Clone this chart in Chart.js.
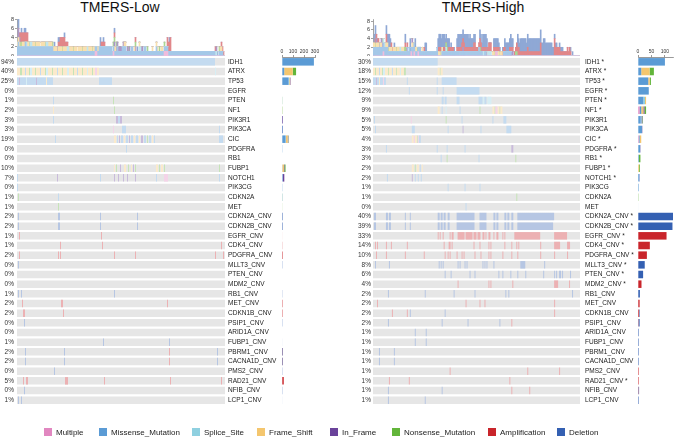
<!DOCTYPE html>
<html>
<head>
<meta charset="utf-8">
<script src="https://cdn.jsdelivr.net/npm/chart.js@4.4.1/dist/chart.umd.min.js"></script>
<style>
    body { margin: 0; background: #fff; width: 676px; height: 440px; position: relative; overflow: hidden;
           font-family: "Liberation Sans", Arial, sans-serif; }
    canvas { position: absolute; }
    .ttl { position: absolute; top: -1px; font-size: 14px; color: #111; white-space: nowrap; transform: translateX(-50%); }
    .lg { position: absolute; top: 428px; font-size: 8px; color: #222; white-space: nowrap; line-height: 10px; }
    .lg i { display: inline-block; width: 8px; height: 8px; vertical-align: -1px; margin-right: 4px; }
</style>
</head>
<body>
<div class="ttl" style="left:120px">TMERS-Low</div>
<div class="ttl" style="left:483px">TMERS-High</div>

<canvas id="lowTop" width="230" height="46" style="left:0;top:10px"></canvas>
<canvas id="highTop" width="235" height="46" style="left:350px;top:10px"></canvas>
<canvas id="lowMatrix" width="280" height="356" style="left:0;top:54px"></canvas>
<canvas id="highMatrix" width="280" height="356" style="left:356px;top:54px"></canvas>
<canvas id="lowSide" width="60" height="370" style="left:270px;top:40px"></canvas>
<canvas id="highSide" width="50" height="370" style="left:626px;top:40px"></canvas>
<div id="legend"></div>

<script>
    // ---- data ---------------------------------------------------------------
    // samples are binned into columns (about 1.5 samples per column)
    var N_COLS = 208;

    var TYPE_CODES = ['X', 'M', 'S', 'F', 'I', 'N', 'A', 'D'];
    var TYPE_NAMES = ['Multiple', 'Missense_Mutation', 'Splice_Site', 'Frame_Shift', 'In_Frame',
                      'Nonsense_Mutation', 'Amplification', 'Deletion'];
    var TYPE_COLORS = ['#E187C0', '#5B9BD5', '#8FD0E0', '#F4C66E', '#6A429A', '#62B53A', '#C9252B', '#3460B2'];

    var LOW_GENES = ['IDH1', 'ATRX', 'TP53', 'EGFR', 'PTEN', 'NF1', 'PIK3R1', 'PIK3CA', 'CIC', 'PDGFRA', 'RB1',
        'FUBP1', 'NOTCH1', 'PIK3CG', 'CDKN2A', 'MET', 'CDKN2A_CNV', 'CDKN2B_CNV', 'EGFR_CNV', 'CDK4_CNV',
        'PDGFRA_CNV', 'MLLT3_CNV', 'PTEN_CNV', 'MDM2_CNV', 'RB1_CNV', 'MET_CNV', 'CDKN1B_CNV', 'PSIP1_CNV',
        'ARID1A_CNV', 'FUBP1_CNV', 'PBRM1_CNV', 'CACNA1D_CNV', 'PMS2_CNV', 'RAD21_CNV', 'NFIB_CNV', 'LCP1_CNV'];
    var LOW_PCT = ['94%', '40%', '25%', '0%', '1%', '2%', '3%', '3%', '19%', '0%', '0%', '10%', '7%', '0%', '1%',
        '1%', '2%', '2%', '1%', '1%', '2%', '0%', '0%', '0%', '1%', '2%', '2%', '0%', '0%', '1%', '2%', '2%',
        '0%', '5%', '0%', '1%'];

    var HIGH_GENES = ['IDH1 *', 'ATRX *', 'TP53 *', 'EGFR *', 'PTEN *', 'NF1 *', 'PIK3R1', 'PIK3CA', 'CIC *',
        'PDGFRA *', 'RB1 *', 'FUBP1 *', 'NOTCH1 *', 'PIK3CG', 'CDKN2A', 'MET', 'CDKN2A_CNV *', 'CDKN2B_CNV *',
        'EGFR_CNV *', 'CDK4_CNV *', 'PDGFRA_CNV *', 'MLLT3_CNV *', 'PTEN_CNV *', 'MDM2_CNV *', 'RB1_CNV',
        'MET_CNV', 'CDKN1B_CNV', 'PSIP1_CNV', 'ARID1A_CNV', 'FUBP1_CNV', 'PBRM1_CNV', 'CACNA1D_CNV',
        'PMS2_CNV', 'RAD21_CNV *', 'NFIB_CNV', 'LCP1_CNV'];
    var HIGH_PCT = ['30%', '18%', '15%', '12%', '9%', '9%', '5%', '5%', '4%', '3%', '3%', '2%', '2%', '1%', '1%',
        '0%', '40%', '39%', '33%', '14%', '10%', '8%', '6%', '4%', '2%', '2%', '2%', '2%', '1%', '1%', '1%',
        '1%', '1%', '1%', '1%', '1%'];

    // oncoprint cells per gene: [firstColumn, endColumn, typeCode]
    var LOW_CELLS = [
        [[0, 198, 'M']],
        [[0, 3, 'F'], [3, 5, 'N'], [5, 8, 'F'], [8, 9, 'M'], [9, 12, 'F'], [12, 13, 'N'], [13, 15, 'S'], [15, 18, 'F'],
         [18, 19, 'N'], [19, 23, 'F'], [23, 24, 'M'], [24, 28, 'F'], [28, 29, 'N'], [29, 31, 'S'], [31, 35, 'F'],
         [35, 36, 'N'], [36, 40, 'F'], [40, 41, 'M'], [41, 45, 'F'], [45, 46, 'N'], [46, 50, 'F'], [50, 52, 'S'],
         [52, 56, 'F'], [56, 57, 'N'], [57, 60, 'F'], [60, 61, 'M'], [61, 65, 'F'], [65, 66, 'N'], [66, 70, 'F'],
         [70, 71, 'S'], [71, 75, 'F'], [75, 76, 'N'], [76, 78, 'F'], [78, 80, 'X'], [80, 82, 'F'], [198, 199, 'S']],
        [[0, 2, 'M'], [2, 3, 'I'], [3, 9, 'M'], [9, 10, 'S'], [10, 19, 'M'], [19, 20, 'I'], [20, 29, 'M'],
         [29, 30, 'F'], [30, 36, 'M'], [82, 95, 'M']],
        [],
        [[36, 37, 'M'], [96, 97, 'N']],
        [[36, 37, 'F'], [97, 98, 'N']],
        [[36, 37, 'M'], [99, 101, 'I'], [101, 103, 'M'], [103, 105, 'I']],
        [[96, 97, 'X'], [105, 109, 'M'], [202, 203, 'M']],
        [[38, 39, 'M'], [97, 99, 'F'], [100, 101, 'M'], [102, 103, 'I'], [104, 106, 'M'], [107, 108, 'F'],
         [109, 111, 'M'], [112, 113, 'I'], [114, 116, 'M'], [117, 118, 'F'], [119, 121, 'M'], [122, 123, 'F'],
         [124, 126, 'I'], [127, 129, 'M'], [130, 131, 'N'], [132, 134, 'M'], [135, 136, 'F'], [137, 138, 'M'],
         [202, 206, 'M']],
        [[109, 110, 'M']],
        [],
        [[97, 98, 'F'], [99, 100, 'N'], [103, 104, 'I'], [107, 109, 'F'], [111, 112, 'N'], [114, 115, 'F'],
         [116, 117, 'I'], [118, 119, 'N'], [139, 141, 'F'], [142, 143, 'N'], [144, 146, 'F'], [147, 148, 'N'],
         [202, 203, 'N']],
        [[0, 1, 'M'], [40, 41, 'I'], [83, 84, 'M'], [97, 98, 'I'], [101, 102, 'I'], [106, 107, 'I'], [110, 111, 'I'],
         [118, 119, 'I'], [139, 140, 'M'], [147, 151, 'X'], [202, 203, 'M']],
        [[0, 1, 'M']],
        [[1, 2, 'N'], [41, 42, 'M']],
        [[41, 42, 'N']],
        [[1, 2, 'D'], [41, 43, 'D'], [83, 84, 'D'], [120, 121, 'D']],
        [[1, 2, 'D'], [41, 43, 'D'], [83, 84, 'D'], [120, 121, 'D']],
        [[2, 3, 'A'], [84, 85, 'A']],
        [[43, 44, 'A'], [85, 86, 'A'], [204, 205, 'A']],
        [[2, 3, 'A'], [41, 42, 'A'], [43, 44, 'A'], [97, 98, 'A'], [118, 119, 'A'], [198, 199, 'A'], [206, 207, 'A']],
        [[1, 2, 'D']],
        [],
        [],
        [[1, 2, 'D'], [4, 5, 'D'], [97, 98, 'D']],
        [[5, 6, 'A'], [44, 46, 'A'], [150, 151, 'A']],
        [[6, 8, 'A'], [46, 47, 'A']],
        [[7, 8, 'D']],
        [],
        [[86, 87, 'D'], [152, 153, 'D']],
        [[8, 9, 'D'], [47, 48, 'D'], [152, 153, 'A'], [200, 201, 'D']],
        [[8, 9, 'D'], [47, 48, 'D'], [152, 153, 'A'], [200, 201, 'D']],
        [[37, 38, 'D']],
        [[6, 7, 'A'], [9, 11, 'A'], [48, 51, 'A'], [87, 88, 'A'], [153, 154, 'A'], [204, 205, 'A']],
        [[7, 8, 'D']],
        [[1, 2, 'D'], [4, 5, 'D']]
    ];

    var HIGH_CELLS = [
        [[0, 65, 'M']],
        [[0, 2, 'F'], [2, 3, 'N'], [3, 6, 'F'], [6, 7, 'M'], [7, 9, 'F'], [9, 10, 'N'], [10, 12, 'S'], [12, 15, 'F'],
         [15, 16, 'N'], [16, 19, 'F'], [19, 20, 'M'], [20, 23, 'F'], [23, 24, 'N'], [24, 27, 'F'], [27, 28, 'S'],
         [28, 31, 'F'], [31, 33, 'N'], [65, 67, 'F'], [67, 68, 'N'], [68, 70, 'F']],
        [[0, 3, 'M'], [3, 4, 'I'], [4, 6, 'M'], [6, 7, 'F'], [7, 10, 'M'], [10, 11, 'X'], [11, 13, 'M'],
         [34, 35, 'M'], [64, 65, 'M'], [69, 84, 'M']],
        [[36, 37, 'M'], [64, 65, 'M'], [70, 71, 'M'], [84, 107, 'M']],
        [[69, 71, 'M'], [72, 74, 'M'], [84, 87, 'M'], [106, 110, 'M'], [110, 112, 'S'], [112, 114, 'M'], [115, 119, 'S']],
        [[65, 67, 'F'], [69, 70, 'M'], [73, 74, 'S'], [87, 88, 'M'], [107, 108, 'N'], [120, 122, 'F'], [122, 123, 'N'],
         [123, 125, 'X'], [125, 127, 'F'], [127, 128, 'N'], [128, 130, 'F']],
        [[1, 2, 'M'], [38, 39, 'X'], [73, 74, 'N'], [89, 90, 'M'], [120, 121, 'M'], [131, 134, 'M']],
        [[2, 3, 'M'], [39, 42, 'M'], [75, 76, 'M'], [90, 91, 'I'], [108, 109, 'M'], [134, 139, 'M']],
        [[39, 41, 'F'], [41, 42, 'X'], [42, 44, 'F'], [44, 45, 'N'], [45, 46, 'X'], [46, 48, 'M']],
        [[13, 14, 'M'], [64, 65, 'M'], [74, 75, 'M'], [92, 93, 'M'], [139, 141, 'I']],
        [[68, 69, 'M'], [74, 75, 'N'], [106, 107, 'M'], [143, 144, 'N']],
        [[39, 41, 'F'], [42, 43, 'N'], [44, 46, 'F'], [47, 48, 'M'], [49, 50, 'F']],
        [[14, 15, 'M'], [39, 40, 'I'], [42, 43, 'M'], [45, 46, 'M'], [48, 49, 'M']],
        [[75, 76, 'M'], [92, 93, 'M'], [107, 108, 'M']],
        [[144, 145, 'N']],
        [[93, 94, 'M']],
        [[1, 3, 'D'], [13, 15, 'D'], [16, 18, 'D'], [32, 33, 'D'], [37, 38, 'D'], [65, 67, 'D'], [68, 70, 'D'],
         [71, 73, 'D'], [75, 77, 'D'], [84, 102, 'D'], [107, 114, 'D'], [121, 123, 'D'], [124, 126, 'D'],
         [132, 134, 'D'], [135, 137, 'D'], [139, 141, 'D'], [145, 182, 'D']],
        [[1, 3, 'D'], [13, 15, 'D'], [16, 18, 'D'], [32, 33, 'D'], [37, 38, 'D'], [65, 67, 'D'], [68, 70, 'D'],
         [71, 73, 'D'], [75, 77, 'D'], [84, 102, 'D'], [107, 114, 'D'], [121, 123, 'D'], [124, 126, 'D'],
         [132, 134, 'D'], [135, 137, 'D'], [139, 141, 'D'], [145, 181, 'D']],
        [[65, 66, 'A'], [67, 68, 'A'], [70, 71, 'A'], [77, 78, 'A'], [79, 81, 'A'], [85, 92, 'A'], [93, 100, 'A'],
         [101, 104, 'A'], [105, 108, 'A'], [110, 112, 'A'], [113, 114, 'A'], [116, 118, 'A'], [121, 122, 'A'],
         [124, 126, 'A'], [130, 131, 'A'], [132, 133, 'A'], [142, 168, 'A'], [182, 195, 'A']],
        [[2, 3, 'A'], [4, 5, 'A'], [13, 14, 'A'], [18, 19, 'A'], [34, 35, 'A'], [71, 72, 'A'], [76, 78, 'A'],
         [79, 80, 'A'], [101, 102, 'A'], [107, 108, 'A'], [116, 117, 'A'], [118, 119, 'A'], [132, 133, 'A'],
         [139, 140, 'A'], [144, 145, 'A'], [146, 147, 'A'], [168, 169, 'A'], [182, 188, 'A'], [195, 198, 'A']],
        [[3, 4, 'A'], [13, 14, 'A'], [32, 33, 'A'], [51, 52, 'A'], [72, 73, 'A'], [75, 76, 'A'], [77, 78, 'A'],
         [84, 85, 'A'], [89, 90, 'A'], [91, 92, 'A'], [102, 103, 'A'], [108, 109, 'A'], [116, 117, 'A'],
         [118, 119, 'A'], [130, 131, 'A'], [139, 140, 'A'], [145, 146, 'A'], [168, 169, 'A'], [182, 183, 'A'],
         [195, 196, 'A']],
        [[2, 3, 'D'], [16, 17, 'D'], [66, 67, 'D'], [68, 69, 'D'], [70, 71, 'D'], [85, 86, 'D'], [87, 88, 'D'],
         [92, 93, 'D'], [94, 95, 'D'], [110, 111, 'D'], [112, 113, 'D'], [114, 115, 'D'], [121, 122, 'D'],
         [148, 153, 'D'], [172, 173, 'D']],
        [[72, 73, 'D'], [78, 79, 'D'], [97, 98, 'D'], [102, 103, 'D'], [126, 127, 'D'], [130, 131, 'D'],
         [138, 139, 'D'], [145, 146, 'D'], [153, 154, 'D'], [171, 172, 'D'], [182, 183, 'D'], [184, 185, 'D'],
         [187, 189, 'D'], [190, 191, 'D'], [198, 199, 'D']],
        [[85, 86, 'A'], [116, 117, 'A'], [118, 119, 'A'], [140, 141, 'A'], [182, 186, 'A'], [197, 198, 'A']],
        [[15, 16, 'D'], [52, 53, 'D'], [81, 82, 'D'], [102, 103, 'D'], [133, 134, 'D'], [136, 137, 'D'], [200, 201, 'D']],
        [[4, 5, 'A'], [93, 94, 'A'], [107, 108, 'A'], [112, 113, 'A'], [182, 183, 'A']],
        [[19, 20, 'A'], [34, 35, 'A'], [37, 38, 'D'], [72, 73, 'D'], [182, 183, 'A']],
        [[15, 16, 'D'], [69, 70, 'D'], [95, 96, 'D'], [127, 128, 'D'], [139, 140, 'A']],
        [[42, 43, 'D'], [53, 54, 'D']],
        [[42, 43, 'D'], [53, 54, 'D']],
        [[6, 7, 'D'], [21, 22, 'D']],
        [[6, 7, 'D'], [21, 22, 'D']],
        [[77, 78, 'A'], [155, 156, 'A'], [187, 188, 'A']],
        [[16, 17, 'A'], [36, 37, 'A'], [137, 138, 'A']],
        [[15, 16, 'D'], [69, 70, 'D'], [139, 140, 'A'], [157, 158, 'A']],
        [[15, 16, 'D'], [52, 53, 'D']]
    ];

    // mutations per sample (top bars): runs of [firstColumn, endColumn, count]
    var LOW_TOP_MULTIPLE = [[78, 80, 1], [96, 97, 1], [147, 151, 1]];
    var LOW_TOP_MISSENSE = [[0, 198, 1], [0, 36, 1], [82, 95, 1], [100, 101, 1], [105, 109, 1], [114, 116, 1],
        [127, 129, 1], [139, 140, 1], [202, 206, 1], [1, 2, 1], [8, 9, 1]];
    var LOW_TOP_SPLICE = [[9, 10, 1], [13, 15, 1], [29, 31, 1], [50, 52, 1], [70, 71, 1], [198, 200, 1], [122, 124, 1]];
    var LOW_TOP_FRAME = [[0, 3, 1], [5, 8, 1], [10, 12, 1], [15, 18, 1], [19, 23, 1], [24, 28, 1], [31, 35, 1],
        [36, 40, 1], [41, 45, 1], [46, 50, 1], [52, 56, 1], [57, 60, 1], [61, 65, 1], [66, 70, 1], [71, 75, 1],
        [76, 78, 1], [80, 82, 1], [97, 99, 1], [107, 109, 1], [117, 118, 1], [122, 123, 1], [135, 136, 1],
        [139, 141, 1], [144, 146, 1], [203, 205, 1]];
    var LOW_TOP_INFRAME = [[2, 3, 1], [40, 41, 1], [97, 98, 1], [99, 105, 1], [106, 107, 1], [110, 111, 1],
        [112, 113, 1], [118, 119, 1], [124, 126, 1], [199, 200, 1], [1, 2, 2]];
    var LOW_TOP_NONSENSE = [[3, 5, 1], [12, 13, 1], [18, 19, 1], [28, 29, 1], [35, 36, 1], [45, 46, 1], [56, 57, 1],
        [65, 66, 1], [75, 76, 1], [96, 98, 1], [99, 100, 1], [111, 112, 1], [118, 119, 1], [130, 131, 1],
        [142, 143, 1], [147, 148, 1], [202, 203, 1]];
    var LOW_TOP_AMP = [[2, 3, 1], [3, 11, 2], [41, 51, 1], [43, 48, 1], [84, 88, 1], [97, 98, 1], [118, 119, 1],
        [150, 154, 2], [153, 154, 1], [198, 199, 1], [204, 207, 1]];
    var LOW_TOP_DEL = [[1, 2, 3], [4, 5, 1], [7, 9, 1], [41, 43, 1], [37, 38, 1], [47, 48, 1], [83, 84, 2],
        [86, 87, 1], [97, 98, 1], [120, 121, 1], [152, 153, 1], [200, 201, 1]];

    var HIGH_TOP_MULTIPLE = [[10, 11, 1], [38, 39, 1], [41, 42, 1], [45, 46, 1], [123, 125, 1]];
    var HIGH_TOP_MISSENSE = [[0, 65, 1], [0, 13, 1], [13, 15, 1], [34, 35, 1], [36, 37, 1], [39, 42, 1], [46, 48, 1],
        [64, 65, 1], [69, 84, 1], [84, 107, 1], [106, 110, 1], [112, 114, 1], [131, 139, 1]];
    var HIGH_TOP_SPLICE = [[10, 12, 1], [27, 28, 1], [73, 74, 1], [110, 112, 1], [115, 119, 1]];
    var HIGH_TOP_FRAME = [[0, 2, 1], [3, 6, 1], [7, 9, 1], [12, 15, 1], [16, 19, 1], [20, 23, 1], [24, 27, 1],
        [28, 31, 1], [39, 41, 1], [42, 44, 1], [49, 50, 1], [65, 67, 1], [68, 70, 1], [120, 122, 1], [125, 127, 1],
        [128, 130, 1]];
    var HIGH_TOP_INFRAME = [[3, 4, 1], [8, 10, 1], [39, 40, 1], [90, 91, 1], [139, 141, 1]];
    var HIGH_TOP_NONSENSE = [[2, 3, 1], [9, 10, 1], [15, 16, 1], [23, 24, 1], [31, 33, 1], [44, 45, 1], [67, 68, 1],
        [73, 75, 1], [107, 108, 1], [122, 123, 1], [127, 128, 1], [143, 145, 1]];
    var HIGH_TOP_AMP = [[2, 6, 1], [13, 14, 2], [18, 20, 1], [32, 35, 1], [51, 52, 1], [65, 68, 1], [70, 73, 1],
        [75, 81, 1], [84, 109, 1], [89, 92, 1], [101, 103, 1], [107, 109, 1], [110, 119, 1], [116, 119, 1],
        [121, 127, 1], [130, 133, 1], [137, 141, 1], [142, 169, 1], [144, 147, 1], [155, 156, 1], [168, 169, 2],
        [182, 196, 1], [182, 188, 1], [182, 183, 2], [195, 199, 1], [197, 198, 1]];
    var HIGH_TOP_DEL = [[1, 3, 2], [2, 3, 1], [6, 7, 1], [13, 18, 2], [15, 17, 1], [21, 22, 1], [32, 33, 2],
        [37, 38, 3], [42, 43, 2], [52, 54, 2], [65, 77, 2], [66, 72, 1], [78, 79, 1], [81, 82, 1], [84, 102, 2],
        [85, 89, 1], [92, 96, 1], [97, 98, 1], [102, 103, 2], [107, 115, 2], [110, 115, 1], [121, 126, 2],
        [126, 128, 1], [130, 131, 1], [132, 141, 2], [138, 139, 1], [145, 182, 2], [145, 146, 1], [148, 154, 1],
        [155, 180, 1], [171, 173, 1], [182, 185, 1], [187, 191, 1], [198, 199, 1], [200, 201, 1]];

    // altered samples per gene (side bars), one value per gene row
    var LOW_SIDE_MULTIPLE = [0, 0, 0, 0, 0, 0, 0, 1, 0, 0, 0, 0, 3, 0, 0, 0, 0, 0, 0, 0, 0, 0, 0, 0, 0, 0, 0, 0, 0, 0, 0, 0, 0, 0, 0, 0];
    var LOW_SIDE_MISSENSE = [290, 20, 60, 0, 2, 0, 2, 8, 32, 1, 0, 4, 5, 1, 1, 0, 0, 0, 0, 0, 0, 0, 0, 0, 0, 0, 0, 0, 0, 0, 0, 0, 0, 0, 0, 0];
    var LOW_SIDE_SPLICE = [0, 0, 6, 0, 0, 0, 0, 0, 4, 0, 0, 0, 0, 0, 0, 0, 0, 0, 0, 0, 0, 0, 0, 0, 0, 0, 0, 0, 0, 0, 0, 0, 0, 0, 0, 0];
    var LOW_SIDE_FRAME = [0, 78, 8, 0, 0, 3, 0, 0, 16, 0, 0, 14, 0, 0, 0, 0, 0, 0, 0, 0, 0, 0, 0, 0, 0, 0, 0, 0, 0, 0, 0, 0, 0, 0, 0, 0];
    var LOW_SIDE_INFRAME = [0, 0, 4, 0, 0, 0, 6, 0, 5, 0, 0, 4, 13, 0, 0, 0, 0, 0, 0, 0, 0, 0, 0, 0, 0, 0, 0, 0, 0, 0, 0, 0, 0, 0, 0, 0];
    var LOW_SIDE_NONSENSE = [0, 30, 0, 0, 1, 2, 0, 0, 3, 0, 0, 10, 0, 0, 1, 2, 0, 0, 0, 0, 0, 0, 0, 0, 0, 0, 0, 0, 0, 0, 0, 0, 0, 0, 0, 0];
    var LOW_SIDE_AMP = [0, 0, 0, 0, 0, 0, 0, 0, 0, 0, 0, 0, 0, 0, 0, 0, 0, 0, 3, 4, 7, 0, 0, 0, 0, 6, 6, 0, 0, 0, 1, 1, 0, 16, 0, 0];
    var LOW_SIDE_DEL = [0, 0, 0, 0, 0, 0, 0, 0, 0, 0, 0, 0, 0, 0, 0, 0, 7, 7, 0, 0, 0, 1, 0, 0, 4, 0, 0, 1, 0, 3, 5, 5, 1, 0, 1, 3];

    var HIGH_SIDE_MULTIPLE = [0, 0, 0, 0, 0, 6, 0, 0, 3, 0, 0, 0, 0, 0, 0, 0, 0, 0, 0, 0, 0, 0, 0, 0, 0, 0, 0, 0, 0, 0, 0, 0, 0, 0, 0, 0];
    var HIGH_SIDE_MISSENSE = [100, 12, 38, 40, 20, 6, 10, 15, 3, 8, 3, 0, 5, 3, 0, 1, 0, 0, 0, 0, 0, 0, 0, 0, 0, 0, 0, 0, 0, 0, 0, 0, 0, 0, 0, 0];
    var HIGH_SIDE_SPLICE = [0, 0, 0, 0, 6, 0, 3, 0, 0, 0, 0, 0, 0, 0, 0, 0, 0, 0, 0, 0, 0, 0, 0, 0, 0, 0, 0, 0, 0, 0, 0, 0, 0, 0, 0, 0];
    var HIGH_SIDE_FRAME = [0, 31, 6, 0, 4, 8, 0, 0, 6, 0, 0, 4, 0, 0, 0, 0, 0, 0, 0, 0, 0, 0, 0, 0, 0, 0, 0, 0, 0, 0, 0, 0, 0, 0, 0, 0];
    var HIGH_SIDE_INFRAME = [0, 0, 0, 0, 0, 4, 3, 1, 0, 1, 0, 0, 1, 0, 0, 0, 0, 0, 0, 0, 0, 0, 0, 0, 0, 0, 0, 0, 0, 0, 0, 0, 0, 0, 0, 0];
    var HIGH_SIDE_NONSENSE = [0, 16, 4, 0, 0, 6, 2, 0, 0, 0, 6, 3, 0, 0, 2, 0, 0, 0, 0, 0, 0, 0, 0, 0, 0, 0, 0, 0, 0, 0, 0, 0, 0, 0, 0, 0];
    var HIGH_SIDE_AMP = [0, 0, 0, 0, 0, 0, 0, 0, 0, 0, 0, 0, 0, 0, 0, 0, 0, 0, 106, 44, 33, 0, 0, 13, 0, 6, 4, 2, 0, 0, 0, 0, 3, 3, 2, 0];
    var HIGH_SIDE_DEL = [0, 0, 0, 0, 0, 0, 0, 0, 0, 0, 0, 0, 0, 0, 0, 0, 130, 128, 0, 0, 0, 25, 19, 0, 7, 0, 2, 4, 3, 3, 3, 3, 0, 0, 2, 3];

    var TOP_TICKS = [0, 2, 4, 6, 8];
    var LOW_SIDE_TICKS = [0, 100, 200, 300];
    var HIGH_SIDE_TICKS = [0, 50, 100];

    // ---- helpers ------------------------------------------------------------
    Chart.defaults.font.family = '"Liberation Sans", Arial, sans-serif';
    Chart.defaults.color = '#222';

    function tint(hex, a) {
        var n = parseInt(hex.slice(1), 16);
        var mix = function (v) { return Math.round(255 - a * (255 - v)); };
        return 'rgb(' + mix(n >> 16) + ',' + mix((n >> 8) & 255) + ',' + mix(n & 255) + ')';
    }

    function fromRuns(runs) {
        var out = new Array(N_COLS).fill(0);
        runs.forEach(function (r) {
            for (var i = r[0]; i < r[1]; i++) { out[i] += r[2]; }
        });
        return out;
    }

    function cellsOf(cells, genes, code) {
        var out = [];
        cells.forEach(function (segs, row) {
            segs.forEach(function (s) {
                if (s[2] === code) { out.push({ x: [s[0], s[1]], y: genes[row] }); }
            });
        });
        return out;
    }

    function fixedTicks(values) {
        return function (s) { s.ticks = values.map(function (v) { return { value: v }; }); };
    }

    // keep the label half-heights from shrinking the plot area
    function noEdgePadding(size) {
        return function (s) {
            if (size !== undefined) { s.width = size; }
            s.paddingTop = 0;
            s.paddingBottom = 0;
        };
    }

    var COL_LABELS = [];
    for (var c = 0; c < N_COLS; c++) { COL_LABELS.push(String(c)); }

    // faint white separators between sample columns
    var SEPARATORS = [];
    for (var c2 = 1; c2 < N_COLS; c2 += 2) { SEPARATORS.push(c2); }

    var baseOptions = {
        responsive: false,
        animation: false,
        events: [],
        plugins: { legend: { display: false }, tooltip: { enabled: false } }
    };

    // ---- top bar charts (alterations per sample) ----------------------------
    function drawTop(id, runsByType, yMax, axisWidth) {
        new Chart(document.getElementById(id), {
            type: 'bar',
            data: {
                labels: COL_LABELS,
                datasets: runsByType.map(function (runs, k) {
                    return {
                        label: TYPE_NAMES[k],
                        data: fromRuns(runs),
                        backgroundColor: tint(TYPE_COLORS[k], 0.55),
                        borderWidth: 0,
                        barPercentage: 1,
                        categoryPercentage: 1
                    };
                })
            },
            options: Object.assign({}, baseOptions, {
                layout: { padding: { top: 9, right: 5, bottom: 0, left: 0 } },
                scales: {
                    x: { stacked: true, display: false },
                    y: {
                        stacked: true, min: 0, max: yMax,
                        afterFit: noEdgePadding(axisWidth),
                        afterBuildTicks: fixedTicks(TOP_TICKS),
                        ticks: { autoSkip: false, font: { size: 5.5 }, color: '#333', padding: 1 },
                        grid: { drawOnChartArea: false, tickLength: 2, color: '#666', lineWidth: 0.6 },
                        border: { color: '#666', width: 0.6 }
                    }
                }
            })
        });
    }

    drawTop('lowTop', [LOW_TOP_MULTIPLE, LOW_TOP_MISSENSE, LOW_TOP_SPLICE, LOW_TOP_FRAME, LOW_TOP_INFRAME,
        LOW_TOP_NONSENSE, LOW_TOP_AMP, LOW_TOP_DEL], 8, 17);
    drawTop('highTop', [HIGH_TOP_MULTIPLE, HIGH_TOP_MISSENSE, HIGH_TOP_SPLICE, HIGH_TOP_FRAME, HIGH_TOP_INFRAME,
        HIGH_TOP_NONSENSE, HIGH_TOP_AMP, HIGH_TOP_DEL], 8.5, 23);

    // ---- oncoprint matrix ---------------------------------------------------
    function drawMatrix(id, genes, pct, cells, rightWidth, leftPad, rightPad) {
        var datasets = TYPE_CODES.map(function (code, k) {
            return {
                label: TYPE_NAMES[k],
                data: cellsOf(cells, genes, code),
                backgroundColor: tint(TYPE_COLORS[k], 0.36),
                borderWidth: 0, grouped: false, order: 0,
                barPercentage: 0.78, categoryPercentage: 1
            };
        });
        datasets.push({
            label: 'background',
            data: genes.map(function (g) { return { x: [0, N_COLS], y: g }; }),
            backgroundColor: '#E6E6E6',
            borderWidth: 0, grouped: false, order: 10,
            barPercentage: 0.78, categoryPercentage: 1
        });
        new Chart(document.getElementById(id), {
            type: 'bar',
            data: { labels: genes, datasets: datasets },
            options: Object.assign({}, baseOptions, {
                indexAxis: 'y',
                layout: { padding: { top: 3, bottom: 5, left: 0, right: 0 } },
                scales: {
                    x: {
                        type: 'linear', min: 0, max: N_COLS, z: 1,
                        afterFit: function (s) { s.height = 0; },
                        afterBuildTicks: fixedTicks(SEPARATORS),
                        ticks: { display: false },
                        grid: { color: 'rgba(255,255,255,0.45)', lineWidth: 0.5, drawTicks: false },
                        border: { display: false }
                    },
                    y: {
                        type: 'category', position: 'left', offset: true,
                        afterFit: noEdgePadding(17),
                        ticks: {
                            autoSkip: false, padding: leftPad, font: { size: 6.5 }, color: '#333',
                            callback: function (v, i) { return pct[i]; }
                        },
                        grid: { display: false, drawTicks: false }, border: { display: false }
                    },
                    y2: {
                        type: 'category', position: 'right', offset: true,
                        afterFit: noEdgePadding(rightWidth),
                        ticks: { autoSkip: false, padding: rightPad, font: { size: 6.5 }, color: '#222' },
                        grid: { display: false, drawTicks: false }, border: { display: false }
                    }
                }
            })
        });
    }

    drawMatrix('lowMatrix', LOW_GENES, LOW_PCT, LOW_CELLS, 55, 3, 3);
    drawMatrix('highMatrix', HIGH_GENES, HIGH_PCT, HIGH_CELLS, 56, 2, 5);

    // ---- side bars (altered samples per gene) -------------------------------
    function drawSide(id, genes, valuesByType, xMax, tickValues, padLeft, padRight) {
        new Chart(document.getElementById(id), {
            type: 'bar',
            data: {
                labels: genes,
                datasets: valuesByType.map(function (vals, k) {
                    return {
                        label: TYPE_NAMES[k], data: vals,
                        backgroundColor: TYPE_COLORS[k], borderWidth: 0,
                        barPercentage: 0.78, categoryPercentage: 1
                    };
                })
            },
            options: Object.assign({}, baseOptions, {
                indexAxis: 'y',
                layout: { padding: { top: 0, bottom: 5, left: padLeft, right: padRight } },
                scales: {
                    x: {
                        stacked: true, position: 'top', min: 0, max: xMax,
                        afterFit: function (s) { s.height = 17; },
                        afterBuildTicks: fixedTicks(tickValues),
                        ticks: { autoSkip: false, maxRotation: 0, font: { size: 5 }, color: '#333', padding: 0 },
                        grid: { drawOnChartArea: false, tickLength: 2, color: '#555', lineWidth: 0.6 },
                        border: { color: '#555', width: 0.6 }
                    },
                    y: { stacked: true, offset: true, display: false }
                }
            })
        });
    }

    drawSide('lowSide', LOW_GENES, [LOW_SIDE_MULTIPLE, LOW_SIDE_MISSENSE, LOW_SIDE_SPLICE, LOW_SIDE_FRAME,
        LOW_SIDE_INFRAME, LOW_SIDE_NONSENSE, LOW_SIDE_AMP, LOW_SIDE_DEL], 300, LOW_SIDE_TICKS, 12, 15);
    drawSide('highSide', HIGH_GENES, [HIGH_SIDE_MULTIPLE, HIGH_SIDE_MISSENSE, HIGH_SIDE_SPLICE, HIGH_SIDE_FRAME,
        HIGH_SIDE_INFRAME, HIGH_SIDE_NONSENSE, HIGH_SIDE_AMP, HIGH_SIDE_DEL], 130, HIGH_SIDE_TICKS, 12, 3);

    // ---- legend -------------------------------------------------------------
    var LEGEND_X = [44, 99, 192, 257, 330, 392, 488, 557];
    var legend = document.getElementById('legend');
    TYPE_NAMES.forEach(function (name, k) {
        var item = document.createElement('div');
        item.className = 'lg';
        item.style.left = LEGEND_X[k] + 'px';
        item.innerHTML = '<i style="background:' + TYPE_COLORS[k] + '"></i>' + name;
        legend.appendChild(item);
    });
</script>
</body>
</html>
